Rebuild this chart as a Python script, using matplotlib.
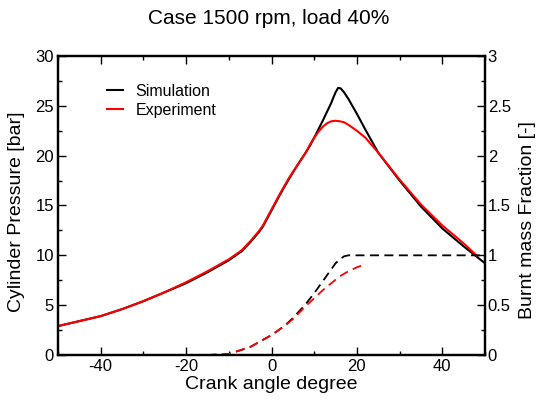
import matplotlib
matplotlib.use("Agg")
import matplotlib.pyplot as plt
from matplotlib.ticker import MultipleLocator

plt.rcParams['font.family'] = ['Liberation Sans', 'DejaVu Sans']
plt.rcParams['axes.unicode_minus'] = False

# Cylinder pressure [bar]
exp_angle = [-50, -45, -40, -35, -30, -25, -20, -15, -10, -7, -5, -3, -2, 0, 2, 4, 6, 8, 9, 10, 11, 12, 13, 14, 15, 16, 17, 18, 19, 20, 22, 25, 30, 35, 40, 45, 48]
exp_p = [2.9, 3.4, 3.9, 4.6, 5.4, 6.3, 7.3, 8.4, 9.6, 10.5, 11.4, 12.4, 13.0, 14.6, 16.2, 17.7, 19.0, 20.3, 21.1, 21.8, 22.4, 22.9, 23.25, 23.45, 23.5, 23.45, 23.35, 23.1, 22.8, 22.5, 21.8, 20.3, 17.6, 15.1, 13.0, 11.2, 10.0]

sim_angle = [-50, -45, -40, -35, -30, -25, -20, -15, -10, -7, -5, -3, -2, 0, 2, 4, 6, 8, 9, 10, 12, 13, 14, 14.5, 15, 15.6, 16.2, 17, 18, 20, 22, 25, 30, 35, 40, 45, 50]
sim_p = [2.9, 3.4, 3.9, 4.6, 5.4, 6.3, 7.2, 8.3, 9.5, 10.4, 11.3, 12.3, 12.9, 14.5, 16.1, 17.6, 19.0, 20.3, 21.0, 21.8, 23.5, 24.4, 25.3, 25.85, 26.35, 26.8, 26.75, 26.35, 25.7, 24.2, 22.6, 20.3, 17.5, 14.9, 12.7, 10.9, 9.2]

# Burnt mass fraction [-]
sim_bmf_angle = [-15, -10, -5, 0, 3, 5, 8, 10, 12, 14, 15, 16, 17, 18, 20, 30, 40, 50]
sim_bmf = [0.0, 0.01, 0.08, 0.2, 0.29, 0.37, 0.51, 0.62, 0.74, 0.86, 0.92, 0.96, 0.99, 1.0, 1.0, 1.0, 1.0, 1.0]

exp_bmf_angle = [-15, -10, -5, 0, 3, 5, 8, 10, 12, 14, 16, 18, 20, 22]
exp_bmf = [0.0, 0.01, 0.08, 0.2, 0.29, 0.36, 0.49, 0.57, 0.65, 0.72, 0.79, 0.84, 0.88, 0.91]

fig = plt.figure(figsize=(5.37, 4.0), dpi=100)
ax = fig.add_axes([58/537, 45/400, 427/537, 299/400])
ax2 = ax.twinx()

ax.plot(sim_angle, sim_p, color='black', lw=1.5, label='Simulation')
ax.plot(exp_angle, exp_p, color='red', lw=1.5, label='Experiment')
ax2.plot(sim_bmf_angle, sim_bmf, color='black', lw=1.3, ls=(0, (5, 3)))
ax2.plot(exp_bmf_angle, exp_bmf, color='red', lw=1.3, ls=(0, (5, 3)))

ax.set_xlim(-50, 50)
ax.set_ylim(0, 30)
ax2.set_ylim(0, 3)

ax.xaxis.set_major_locator(MultipleLocator(20))
ax.xaxis.set_minor_locator(MultipleLocator(10))
ax.yaxis.set_major_locator(MultipleLocator(5))
ax.yaxis.set_minor_locator(MultipleLocator(2.5))
ax2.yaxis.set_minor_locator(MultipleLocator(0.25))
ax2.set_yticks([0, 0.5, 1, 1.5, 2, 2.5, 3])
ax2.set_yticklabels(['0', '0.5', '1', '1.5', '2', '2.5', '3'])

ax.tick_params(axis='both', which='major', direction='in', length=6, width=1, labelsize=12, pad=3)
ax.tick_params(axis='both', which='minor', direction='in', length=3, width=1)
ax.tick_params(axis='x', top=True, which='both')
ax.tick_params(axis='y', right=False, which='both')
ax2.tick_params(axis='y', which='major', direction='in', length=6, width=1, labelsize=12, pad=2)
ax2.tick_params(axis='y', which='minor', direction='in', length=3, width=1)

for a in (ax, ax2):
    for s in a.spines.values():
        s.set_linewidth(1.6)

ax.set_xlabel('Crank angle degree', fontsize=14, labelpad=1)
ax.set_ylabel('Cylinder Pressure [bar]', fontsize=14)
ax2.set_ylabel('Burnt mass Fraction [-]', fontsize=14)
ax.yaxis.set_label_coords(-0.078, 0.48)
ax2.yaxis.set_label_coords(1.08, 0.45)

fig.text(0.5, 1 - 18/400, 'Case 1500 rpm, load 40%', fontsize=15, ha='center', va='center')

leg = ax.legend(loc='upper left', bbox_to_anchor=(0.08, 0.955), frameon=False,
                fontsize=11.5, handlelength=1.0, handletextpad=0.8, labelspacing=0.25)

fig.savefig('out.png', dpi=100)
